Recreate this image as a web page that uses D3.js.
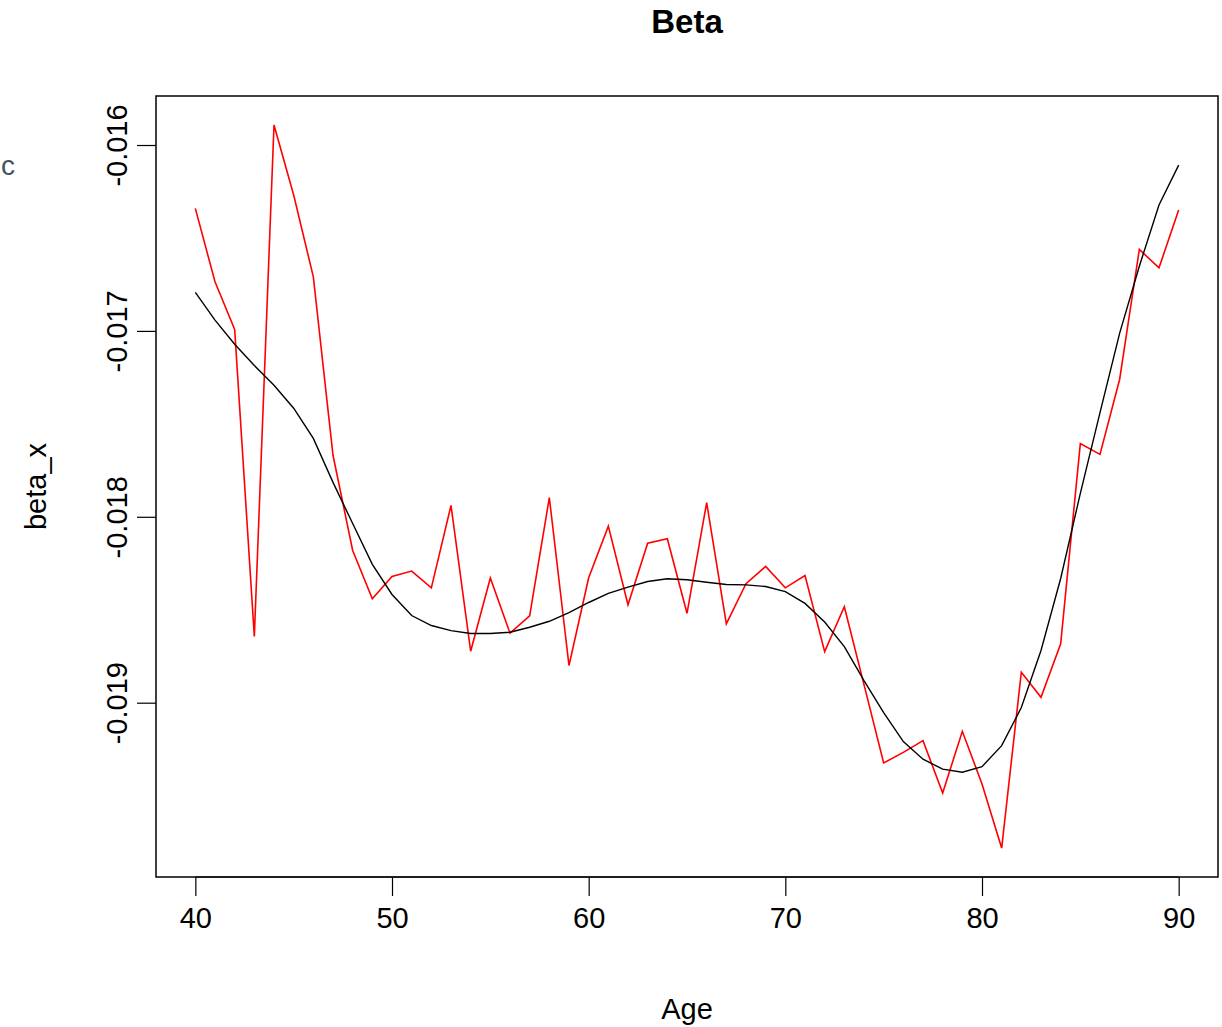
<!DOCTYPE html>
<html>
<head>
<meta charset="utf-8">
<script src="https://cdn.jsdelivr.net/npm/d3@7"></script>
<style>
  html, body { margin: 0; padding: 0; background: #fff; }
  svg { display: block; }
  text { font-family: "Liberation Sans", Arial, sans-serif; fill: #000; }
</style>
</head>
<body>
<svg id="chart" width="1222" height="1027"></svg>
<script>
// Ages 40..90
const ages = [40,41,42,43,44,45,46,47,48,49,50,51,52,53,54,55,56,57,58,59,60,
  61,62,63,64,65,66,67,68,69,70,71,72,73,74,75,76,77,78,79,80,
  81,82,83,84,85,86,87,88,89,90];

// Raw beta_x estimates (red)
const betaRaw = [
  -0.016341, -0.016736, -0.016992, -0.018644, -0.015892, -0.016269, -0.016709, -0.017669, -0.018181, -0.018441,
  -0.018321, -0.018292, -0.018382, -0.017939, -0.018723, -0.018329, -0.018626, -0.018533, -0.017897, -0.018800,
  -0.018328, -0.018050, -0.018473, -0.018142, -0.018118, -0.018519, -0.017924, -0.018576, -0.018360, -0.018267,
  -0.018382, -0.018316, -0.018725, -0.018484, -0.018903, -0.019324, -0.019267, -0.019204, -0.019486, -0.019154,
  -0.019437, -0.019782, -0.018836, -0.018971, -0.018683, -0.017606, -0.017664, -0.017260, -0.016562, -0.016661,
  -0.016350
];

// Smoothed beta_x (black)
const betaSmooth = [
  -0.016793, -0.016942, -0.017072, -0.017186, -0.017292, -0.017416, -0.017578, -0.017815, -0.018036, -0.018256,
  -0.018418, -0.018531, -0.018585, -0.018612, -0.018628, -0.018628, -0.018621, -0.018594, -0.018562, -0.018515,
  -0.018461, -0.018412, -0.018378, -0.018348, -0.018333, -0.018339, -0.018352, -0.018364, -0.018366, -0.018375,
  -0.018402, -0.018466, -0.018566, -0.018698, -0.018881, -0.019053, -0.019209, -0.019304, -0.019357, -0.019374,
  -0.019344, -0.019231, -0.019026, -0.018719, -0.018332, -0.017874, -0.017440, -0.017012, -0.016652, -0.016323,
  -0.016108
];

const xTicks = [40, 50, 60, 70, 80, 90];
const yTicks = [-0.016, -0.017, -0.018, -0.019];

const titleText = "Beta";
const xLabel = "Age";
const yLabel = "beta_x";

// Plot region
const box = { left: 156, top: 96, right: 1218, bottom: 877 };

const svg = d3.select("#chart");

// R-style 4% axis expansion
const xExt = d3.extent(ages);
const xPad = 0.04 * (xExt[1] - xExt[0]);
const x = d3.scaleLinear()
  .domain([xExt[0] - xPad, xExt[1] + xPad])
  .range([box.left, box.right]);

const yExt = d3.extent(betaRaw.concat(betaSmooth));
const yPad = 0.04 * (yExt[1] - yExt[0]);
const y = d3.scaleLinear()
  .domain([yExt[0] - yPad, yExt[1] + yPad])
  .range([box.bottom, box.top]);

// Plain hyphen for negative numbers
const locale = d3.formatLocale({ decimal: ".", thousands: ",", grouping: [3], currency: ["", ""], minus: "-" });
const fmt = locale.format(".3f");

// Axes
const xAxis = d3.axisBottom(x).tickValues(xTicks).tickSize(19).tickPadding(11)
  .tickFormat(d3.format("d"));
const gx = svg.append("g")
  .attr("transform", `translate(0,${box.bottom})`)
  .call(xAxis);
gx.select(".domain").remove();
gx.append("line")
  .attr("x1", x(xTicks[0])).attr("x2", x(xTicks[xTicks.length - 1]))
  .attr("stroke", "#000").attr("stroke-width", 1);
gx.selectAll(".tick line").attr("stroke", "#000").attr("stroke-width", 1.2);
gx.selectAll(".tick text")
  .attr("font-size", 29)
  .attr("font-family", "Liberation Sans, Arial, sans-serif")
  .attr("fill", "#000");

const yAxis = d3.axisLeft(y).tickValues(yTicks).tickSize(19).tickPadding(8)
  .tickFormat(fmt);
const gy = svg.append("g")
  .attr("transform", `translate(${box.left},0)`)
  .call(yAxis);
gy.select(".domain").remove();
gy.selectAll(".tick line").attr("stroke", "#000").attr("stroke-width", 1.2);
gy.selectAll(".tick text")
  .attr("font-size", 29)
  .attr("font-family", "Liberation Sans, Arial, sans-serif")
  .attr("fill", "#000")
  .attr("text-anchor", "middle")
  .attr("dy", null)
  .attr("x", null)
  .attr("transform", "translate(-29,0) rotate(-90)")
  .attr("y", 0);

// Lines
const line = (vals) => d3.line()
  .x((d, i) => x(ages[i]))
  .y(d => y(d))(vals);

svg.append("path")
  .attr("d", line(betaRaw))
  .attr("fill", "none")
  .attr("stroke", "#ff0000")
  .attr("stroke-width", 1.6)
  .attr("stroke-linejoin", "miter");

svg.append("path")
  .attr("d", line(betaSmooth))
  .attr("fill", "none")
  .attr("stroke", "#000")
  .attr("stroke-width", 1.4);

// Frame
svg.append("rect")
  .attr("x", box.left).attr("y", box.top)
  .attr("width", box.right - box.left).attr("height", box.bottom - box.top)
  .attr("fill", "none").attr("stroke", "#000").attr("stroke-width", 1.5);

// Titles
svg.append("text")
  .attr("x", (box.left + box.right) / 2).attr("y", 33)
  .attr("text-anchor", "middle")
  .attr("font-size", 33).attr("font-weight", "bold")
  .text(titleText);

svg.append("text")
  .attr("x", (box.left + box.right) / 2).attr("y", 1019)
  .attr("text-anchor", "middle")
  .attr("font-size", 29)
  .text(xLabel);

svg.append("text")
  .attr("transform", `translate(46,${(box.top + box.bottom) / 2}) rotate(-90)`)
  .attr("text-anchor", "middle")
  .attr("font-size", 29)
  .text(yLabel);

// Small glyph at the left edge
svg.append("text")
  .attr("x", 1).attr("y", 175)
  .attr("font-size", 28)
  .attr("font-family", "Liberation Serif, serif")
  .style("fill", "#44535d")
  .text("c");
</script>
</body>
</html>
